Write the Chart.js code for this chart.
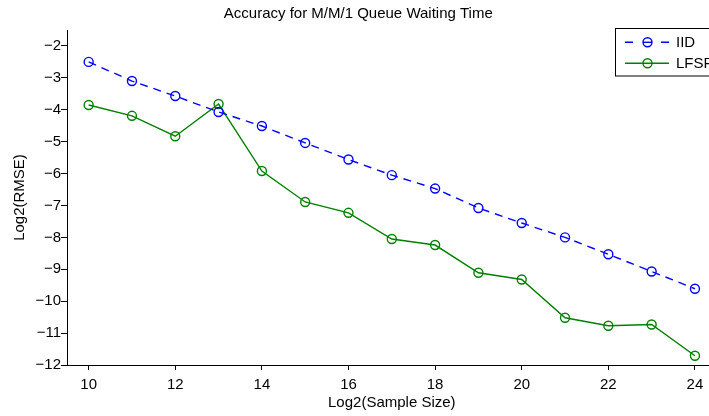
<!DOCTYPE html>
<html>
<head>
<meta charset="utf-8">
<script src="https://cdn.jsdelivr.net/npm/chart.js@4"></script>
<style>
  html, body { margin: 0; padding: 0; overflow: hidden; background: #fff; }
  #wrap { width: 709px; height: 416px; overflow: hidden; }
</style>
</head>
<body>
<div id="wrap"><canvas id="myChart" width="760" height="416"></canvas></div>
<script>
// values
const sampleSizes = [10, 11, 12, 13, 14, 15, 16, 17, 18, 19, 20, 21, 22, 23, 24];
const iidRmse  = [-2.50, -3.10, -3.57, -4.07, -4.51, -5.04, -5.56, -6.05, -6.47, -7.08, -7.55, -8.00, -8.53, -9.07, -9.61];
const lfsrRmse = [-3.85, -4.19, -4.83, -3.82, -5.92, -6.89, -7.23, -8.05, -8.24, -9.11, -9.32, -10.52, -10.77, -10.73, -11.71];
const xTicks = [10, 12, 14, 16, 18, 20, 22, 24];
const yTicks = [-12, -11, -10, -9, -8, -7, -6, -5, -4, -3, -2];
const seriesNames = ['IID', 'LFSR'];

const FONT = 'Liberation Sans, Arial, Helvetica, sans-serif';
const minus = v => String(v).replace('-', '\u2212');

// MATLAB style legend box sitting in the top right corner
const boxLegend = {
    id: 'boxLegend',
    afterDraw(chart) {
        const ctx = chart.ctx;
        const sets = chart.data.datasets;
        ctx.save();
        ctx.fillStyle = '#fff';
        ctx.strokeStyle = '#000';
        ctx.lineWidth = 1;
        ctx.fillRect(615.5, 28.5, 140, 47.5);
        ctx.strokeRect(615.5, 28.5, 140, 47.5);
        const rows = [42.3, 63.3];
        sets.forEach((ds, i) => {
            const y = rows[i];
            ctx.strokeStyle = ds.borderColor;
            ctx.lineWidth = ds.borderWidth;
            ctx.setLineDash(ds.borderDash || []);
            ctx.beginPath();
            if (ds.borderDash) {
                ctx.moveTo(625, y); ctx.lineTo(633, y);
                ctx.moveTo(661, y); ctx.lineTo(669, y);
            } else {
                ctx.moveTo(625, y); ctx.lineTo(669, y);
            }
            ctx.stroke();
            ctx.setLineDash([]);
            ctx.lineWidth = ds.pointBorderWidth;
            ctx.beginPath();
            ctx.arc(647.5, y, ds.pointRadius, 0, Math.PI * 2);
            ctx.stroke();
            if (ds.borderDash) {
                ctx.lineWidth = ds.borderWidth;
                ctx.beginPath();
                ctx.moveTo(643, y); ctx.lineTo(652, y);
                ctx.stroke();
            }
            ctx.fillStyle = '#000';
            ctx.font = '15px ' + FONT;
            ctx.textBaseline = 'middle';
            ctx.textAlign = 'left';
            ctx.fillText(ds.label, 676, y + 0.5);
        });
        ctx.restore();
    }
};

new Chart(document.getElementById('myChart'), {
    type: 'line',
    data: {
        datasets: [{
            label: seriesNames[0],
            data: sampleSizes.map((x, i) => ({ x: x, y: iidRmse[i] })),
            borderColor: '#0000ff',
            borderWidth: 1.4,
            borderDash: [8, 6],
            pointRadius: 4.5,
            pointBorderWidth: 1.4,
            pointBorderColor: '#0000ff',
            pointBackgroundColor: 'rgba(0,0,0,0)',
            fill: false,
            tension: 0
        }, {
            label: seriesNames[1],
            data: sampleSizes.map((x, i) => ({ x: x, y: lfsrRmse[i] })),
            borderColor: '#008000',
            borderWidth: 1.4,
            pointRadius: 4.5,
            pointBorderWidth: 1.4,
            pointBorderColor: '#008000',
            pointBackgroundColor: 'rgba(0,0,0,0)',
            fill: false,
            tension: 0
        }]
    },
    options: {
        responsive: false,
        devicePixelRatio: 1,
        animation: false,
        layout: { padding: { left: 0, right: 43.4, top: 0, bottom: 0 } },
        plugins: {
            legend: { display: false },
            tooltip: { enabled: false },
            title: {
                display: true,
                text: 'Accuracy for M/M/1 Queue Waiting Time',
                color: '#000',
                font: { family: FONT, size: 15, weight: 'normal' },
                padding: { top: 5, bottom: 7 }
            }
        },
        scales: {
            x: {
                type: 'linear',
                min: 9.5,
                max: 24.5,
                afterBuildTicks: s => { s.ticks = xTicks.map(v => ({ value: v })); },
                afterFit: s => { s.height = 51; },
                grid: { drawOnChartArea: false, color: '#000', tickLength: 5 },
                border: { color: '#000', width: 1 },
                ticks: {
                    color: '#000',
                    padding: 6,
                    maxRotation: 0,
                    font: { family: FONT, size: 15 },
                    callback: v => minus(v)
                },
                title: {
                    display: true,
                    text: 'Log2(Sample Size)',
                    color: '#000',
                    font: { family: FONT, size: 15 },
                    padding: { top: 0, bottom: 4.3 }
                }
            },
            y: {
                type: 'linear',
                min: -12,
                max: -1.5,
                afterBuildTicks: s => { s.ticks = yTicks.map(v => ({ value: v })); },
                afterFit: s => { s.width = 67; },
                grid: { drawOnChartArea: false, color: '#000', tickLength: 6 },
                border: { color: '#000', width: 1 },
                ticks: {
                    color: '#000',
                    padding: 0,
                    font: { family: FONT, size: 15 },
                    callback: v => minus(v)
                },
                title: {
                    display: true,
                    text: 'Log2(RMSE)',
                    color: '#000',
                    font: { family: FONT, size: 15 },
                    padding: { top: 10.5, bottom: 0 }
                }
            }
        }
    },
    plugins: [boxLegend]
});
</script>
</body>
</html>
